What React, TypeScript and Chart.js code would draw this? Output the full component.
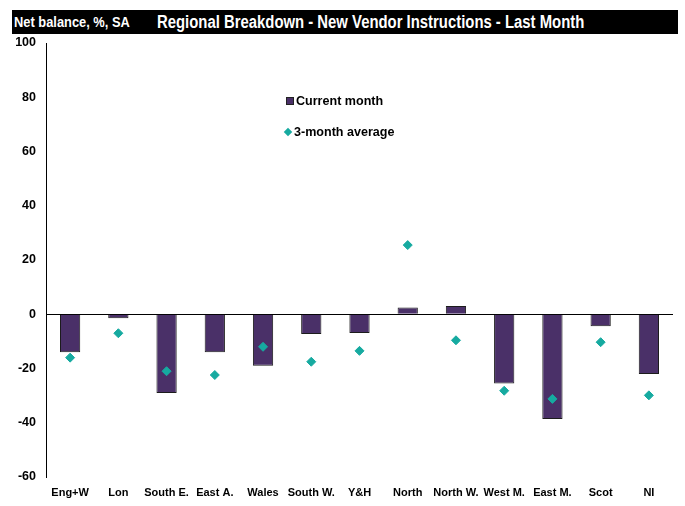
import React, { useEffect, useRef } from "react";
import { Chart, registerables } from "chart.js";

Chart.register(...registerables);

const categories = ["Eng+W", "Lon", "South E.", "East A.", "Wales", "South W.", "Y&H", "North", "North W.", "West M.", "East M.", "Scot", "NI"];
const currentMonth = [-14, -1.5, -29, -14, -19, -7.3, -6.9, 2.5, 3, -25.5, -38.6, -4.4, -22];
const threeMonthAvg = [-16, -7, -21, -22.4, -12, -17.5, -13.5, 25.5, -9.6, -28.2, -31.2, -10.3, -29.9];
const yTicks = [100, 80, 60, 40, 20, 0, -20, -40, -60];

const titleLeft = "Net balance, %, SA";
const titleMain = "Regional Breakdown - New Vendor Instructions - Last Month";
const legendLabels = ["Current month", "3-month average"];

const BAR = "#4a3068";
const TEAL = "#16aaa0";
const FONT = "'Liberation Sans', Arial, sans-serif";

export default function App() {
  const ref = useRef<HTMLCanvasElement>(null);
  useEffect(() => {
    if (!ref.current) return;
    const chart = new Chart(ref.current, {
      data: {
        labels: categories,
        datasets: [
          {
            type: "scatter" as any,
            label: legendLabels[1],
            data: threeMonthAvg as any,
            backgroundColor: TEAL,
            borderColor: TEAL,
            pointStyle: "rectRot",
            pointRadius: 4.5,
            showLine: false,
            order: 0,
          } as any,
          {
            type: "bar",
            label: legendLabels[0],
            data: currentMonth,
            backgroundColor: BAR,
            borderColor: "#1c1c1c",
            borderWidth: 1,
            barPercentage: 0.42,
            categoryPercentage: 1,
            order: 1,
          } as any,
        ],
      },
      options: {
        animation: false,
        responsive: false,
        maintainAspectRatio: false,
        layout: { padding: { top: 43, right: 12, left: 0, bottom: 0 } },
        plugins: { legend: { display: false }, title: { display: false }, tooltip: { enabled: false } },
        scales: {
          x: {
            type: "category",
            labels: categories,
            grid: { display: false, drawTicks: false },
            border: { display: false },
            ticks: { color: "#000", font: { family: FONT, size: 11, weight: "bold" }, padding: 9, maxRotation: 0, autoSkip: false },
            afterFit: (s: any) => { s.height = 29; },
          },
          y: {
            min: -60,
            max: 100,
            afterBuildTicks: (s: any) => { s.ticks = yTicks.map((v) => ({ value: v })); },
            grid: {
              drawTicks: false,
              color: (c: any) => (c.tick && c.tick.value === 0 ? "#000" : "rgba(0,0,0,0)"),
              lineWidth: 1,
            },
            border: { display: true, color: "#000", width: 1 },
            ticks: { color: "#000", font: { family: FONT, size: 12.5, weight: "bold" }, padding: 10 },
            afterFit: (s: any) => { s.width = 46; },
          },
        },
      } as any,
    });
    return () => chart.destroy();
  }, []);

  return (
    <div style={{ position: "absolute", left: 0, top: 0, width: 685, height: 506, background: "#fff" }}>
      <canvas ref={ref} width={685} height={506} style={{ position: "absolute", left: 0, top: 0 }} />
      <div style={{ position: "absolute", left: 12, top: 10, width: 666, height: 24, background: "#000", color: "#fff", fontFamily: FONT, fontWeight: "bold", overflow: "hidden" }}>
        <span style={{ position: "absolute", left: 2, top: 3, fontSize: 15.5, lineHeight: "18px", whiteSpace: "nowrap", transform: "scaleX(0.83)", transformOrigin: "left center" }}>{titleLeft}</span>
        <span style={{ position: "absolute", left: 145, top: 2, fontSize: 17.5, lineHeight: "20px", whiteSpace: "nowrap", transform: "scaleX(0.85)", transformOrigin: "left center" }}>{titleMain}</span>
      </div>
      <div style={{ position: "absolute", left: 286, top: 97, width: 8, height: 8, background: BAR, border: "1px solid #222", boxSizing: "border-box" }} />
      <div style={{ position: "absolute", left: 296, top: 93, fontFamily: FONT, fontWeight: "bold", fontSize: 13.5, lineHeight: "16px", whiteSpace: "nowrap", color: "#000", transform: "scaleX(0.93)", transformOrigin: "left center" }}>{legendLabels[0]}</div>
      <div style={{ position: "absolute", left: 285, top: 129, width: 6, height: 6, background: TEAL, transform: "rotate(45deg)" }} />
      <div style={{ position: "absolute", left: 294, top: 124, fontFamily: FONT, fontWeight: "bold", fontSize: 13.5, lineHeight: "16px", whiteSpace: "nowrap", color: "#000", transform: "scaleX(0.93)", transformOrigin: "left center" }}>{legendLabels[1]}</div>
    </div>
  );
}
